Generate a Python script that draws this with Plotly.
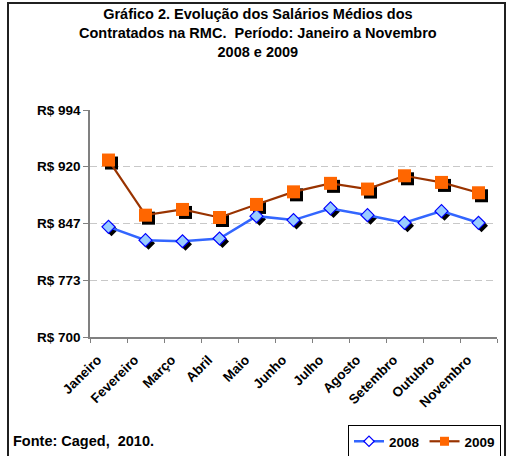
import plotly.graph_objects as go

months = ["Janeiro", "Fevereiro", "Março", "Abril", "Maio", "Junho", "Julho",
          "Agosto", "Setembro", "Outubro", "Novembro"]
sal_2008 = [842.7, 825.4, 824.0, 827.6, 856.5, 851.4, 866.5, 857.8, 847.9, 863.0, 847.9]
sal_2009 = [929.2, 857.8, 865.2, 854.8, 871.7, 888.0, 899.0, 891.6, 908.8, 900.2, 886.8]
ytick_vals = [700, 773.5, 847, 920.5, 994]
ytick_text = ["R$ 700", "R$ 773", "R$ 847", "R$ 920", "R$ 994"]

FONT = "Liberation Sans, Arial, sans-serif"
W, H = 506, 456
ML, MR, MT, MB = 90, 9, 110, 119
pw = W - ML - MR
ph = H - MT - MB

def px_x(p):
    return (p - ML) / pw

def px_y(p):
    return (H - MB - p) / ph

xr = [-0.5, len(months) - 0.5]
yr = [700, 994]
# shadow offset (pixels) converted to axis units
dx = 3 * (xr[1] - xr[0]) / pw
dy = 3 * (yr[1] - yr[0]) / ph

fig = go.Figure()

# shadows (on hidden, shifted axes)
fig.add_trace(go.Scatter(x=months, y=sal_2008, mode="markers", xaxis="x", yaxis="y",
                         marker=dict(symbol="diamond", size=10, color="black"),
                         showlegend=False, hoverinfo="skip"))
fig.add_trace(go.Scatter(x=months, y=sal_2009, mode="markers", xaxis="x", yaxis="y",
                         marker=dict(symbol="square", size=13, color="black"),
                         showlegend=False, hoverinfo="skip"))

# real series
fig.add_trace(go.Scatter(x=months, y=sal_2008, mode="lines+markers", name="2008",
                         xaxis="x2", yaxis="y2", showlegend=False,
                         line=dict(color="#3366FF", width=2.5),
                         marker=dict(symbol="diamond", size=10, color="#99CCFF",
                                     line=dict(color="#0000FF", width=1.2))))
fig.add_trace(go.Scatter(x=months, y=sal_2009, mode="lines+markers", name="2009",
                         xaxis="x2", yaxis="y2", showlegend=False,
                         line=dict(color="#993300", width=2.2),
                         marker=dict(symbol="square", size=13, color="#FF6600",
                                     line=dict(color="#FF6600", width=0))))

# legend entries (smaller legend symbols like the reference)
fig.add_trace(go.Scatter(x=[None], y=[None], mode="lines+markers", name="2008",
                         xaxis="x2", yaxis="y2",
                         line=dict(color="#3366FF", width=2.5),
                         marker=dict(symbol="diamond", size=8, color="white",
                                     line=dict(color="#0000FF", width=1.2))))
fig.add_trace(go.Scatter(x=[None], y=[None], mode="lines+markers", name="2009",
                         xaxis="x2", yaxis="y2",
                         line=dict(color="#993300", width=2.2),
                         marker=dict(symbol="square", size=9, color="#FF6600",
                                     line=dict(color="#FF6600", width=0))))

fig.update_layout(
    width=W, height=H,
    margin=dict(l=ML, r=MR, t=MT, b=MB, autoexpand=False),
    paper_bgcolor="white", plot_bgcolor="white",
    font=dict(family=FONT, color="black"),
    xaxis=dict(type="category", range=[xr[0] - dx, xr[1] - dx], visible=False,
               categoryorder="array", categoryarray=months, automargin=False),
    yaxis=dict(range=[yr[0] + dy, yr[1] + dy], visible=False, automargin=False),
    xaxis2=dict(type="category", overlaying="x", range=xr, anchor="y2",
                categoryorder="array", categoryarray=months, automargin=False,
                showline=True, linecolor="#808080", linewidth=1.5,
                ticks="outside", ticklen=4, tickcolor="#808080", tickwidth=1,
                tickson="boundaries", showgrid=False,
                tickangle=-45, ticklabelshift=-11, ticklabelstandoff=8,
                tickfont=dict(family=FONT, size=13.5, color="black", weight="bold")),
    yaxis2=dict(overlaying="y", range=yr, anchor="x2", automargin=False,
                tickvals=ytick_vals, ticktext=ytick_text,
                showline=True, linecolor="#808080", linewidth=1.5,
                ticks="outside", ticklen=5, tickcolor="#808080",
                showgrid=True, gridcolor="#C8C8C8", griddash="7px,4px", gridwidth=1,
                zeroline=False,
                tickfont=dict(family=FONT, size=13.5, color="black", weight="bold")),
    legend=dict(orientation="h", x=px_x(348), xanchor="left",
                y=px_y(425), yanchor="top",
                bordercolor="black", borderwidth=1, bgcolor="white",
                font=dict(family=FONT, size=13.5, color="black", weight="bold"),
                itemwidth=30, tracegroupgap=0),
    showlegend=True,
)

# outer frame
fig.add_shape(type="rect", xref="paper", yref="paper",
              x0=px_x(8), x1=px_x(505), y0=px_y(462), y1=px_y(3),
              line=dict(color="#202020", width=2), fillcolor="rgba(0,0,0,0)")

fig.add_annotation(
    text="Gráfico 2. Evolução dos Salários Médios dos<br>Contratados na RMC.  Período: Janeiro a Novembro<br>2008 e 2009",
    xref="paper", yref="paper", x=px_x(258), xanchor="center",
    y=px_y(4), yanchor="top", showarrow=False, align="center",
    font=dict(family=FONT, size=14.5, color="black", weight="bold"))

fig.add_annotation(text="Fonte: Caged,  2010.", xref="paper", yref="paper",
                   x=px_x(11), xanchor="left",
                   y=px_y(441), yanchor="middle", showarrow=False,
                   font=dict(family=FONT, size=14.5, color="black", weight="bold"))

fig.write_html("out.html", config={"displayModeBar": False},
               post_script="document.body.style.margin='0';document.body.style.overflow='hidden';")
